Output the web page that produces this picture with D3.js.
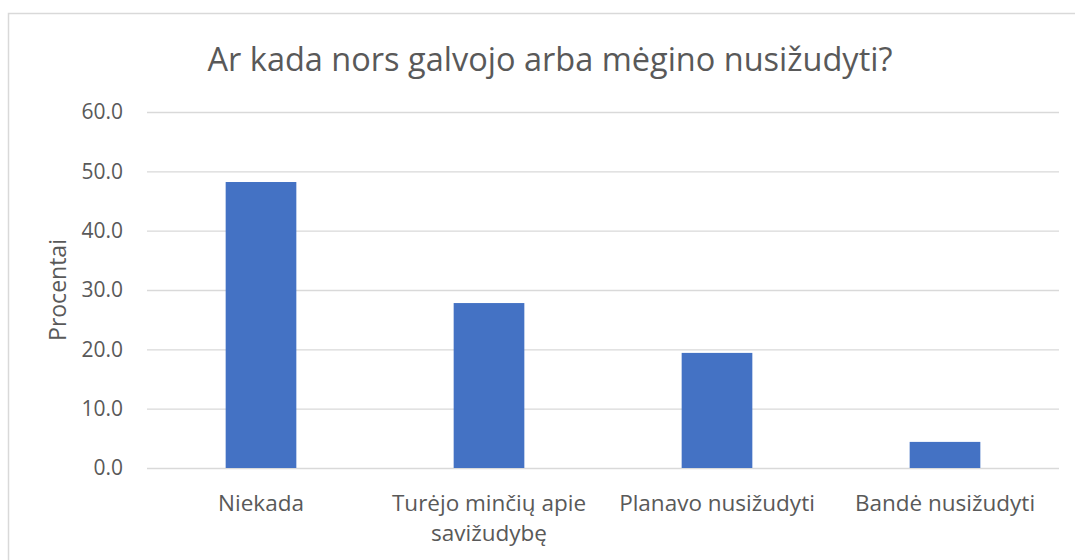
<!DOCTYPE html>
<html lang="lt">
<head>
  <meta charset="UTF-8">
  <title>Ar kada nors galvojo arba mėgino nusižudyti?</title>
  <script src="https://cdn.jsdelivr.net/npm/d3@7"></script>
  <style>
    body { margin: 0; background: #fff; }
    text { font-family: "Open Sans", "Noto Sans", sans-serif; fill: #595959; }
  </style>
</head>
<body>
  <script>
    const categories = [["Niekada"], ["Turėjo minčių apie", "savižudybę"], ["Planavo nusižudyti"], ["Bandė nusižudyti"]];
    const values = [48.2, 27.8, 19.4, 4.4];
    const yTicks = [0, 10, 20, 30, 40, 50, 60];

    const w = 1075;
    const h = 560;
    const plotLeft = 147, plotRight = 1059, plotTop = 112, plotBottom = 468;

    const svg = d3.select("body")
                  .append("svg")
                  .attr("width", w)
                  .attr("height", h);

    // chart frame
    svg.append("rect")
      .attr("x", 8.5).attr("y", 13.5)
      .attr("width", 1080).attr("height", 560)
      .attr("fill", "none").attr("stroke", "#d9d9d9").attr("stroke-width", 1.5);

    const xScale = d3.scaleBand()
                      .domain(categories.map((c, i) => i))
                      .range([plotLeft, plotRight])
                      .paddingInner(0.69)
                      .paddingOuter(0.345);

    const yScale = d3.scaleLinear()
                      .domain([0, 60])
                      .range([plotBottom, plotTop]);

    // gridlines
    svg.append("g")
      .selectAll("line")
      .data(yTicks)
      .enter()
      .append("line")
      .attr("x1", plotLeft).attr("x2", plotRight)
      .attr("y1", d => yScale(d) + 0.5).attr("y2", d => yScale(d) + 0.5)
      .attr("stroke", "#d9d9d9").attr("stroke-width", 1.3);

    // y tick labels
    svg.append("g")
      .selectAll("text")
      .data(yTicks)
      .enter()
      .append("text")
      .attr("x", 123)
      .attr("y", d => yScale(d))
      .attr("dy", "0.35em")
      .attr("text-anchor", "end")
      .style("font-size", "21px")
      .text(d => d.toFixed(1));

    // bars
    svg.append("g")
      .selectAll("rect")
      .data(values)
      .enter()
      .append("rect")
      .attr("x", (d, i) => xScale(i))
      .attr("y", d => yScale(d))
      .attr("width", xScale.bandwidth())
      .attr("height", d => plotBottom - yScale(d))
      .attr("fill", "#4472c4");

    // category labels
    const lab = svg.append("g")
      .selectAll("text")
      .data(categories)
      .enter()
      .append("text")
      .attr("x", (d, i) => xScale(i) + xScale.bandwidth() / 2)
      .attr("y", 511)
      .attr("text-anchor", "middle")
      .style("font-size", "22.5px");
    lab.selectAll("tspan")
      .data(d => d)
      .enter()
      .append("tspan")
      .attr("x", function() { return this.parentNode.getAttribute("x"); })
      .attr("dy", (d, i) => i === 0 ? 0 : 30)
      .text(d => d);

    // axis title
    svg.append("text")
      .attr("transform", "translate(66," + ((plotTop + plotBottom) / 2) + ") rotate(-90)")
      .attr("text-anchor", "middle")
      .style("font-size", "23px")
      .text("Procentai");

    // chart title
    svg.append("text")
      .attr("x", 550)
      .attr("y", 71)
      .attr("text-anchor", "middle")
      .style("font-size", "32.5px")
      .text("Ar kada nors galvojo arba mėgino nusižudyti?");
  </script>
</body>
</html>
